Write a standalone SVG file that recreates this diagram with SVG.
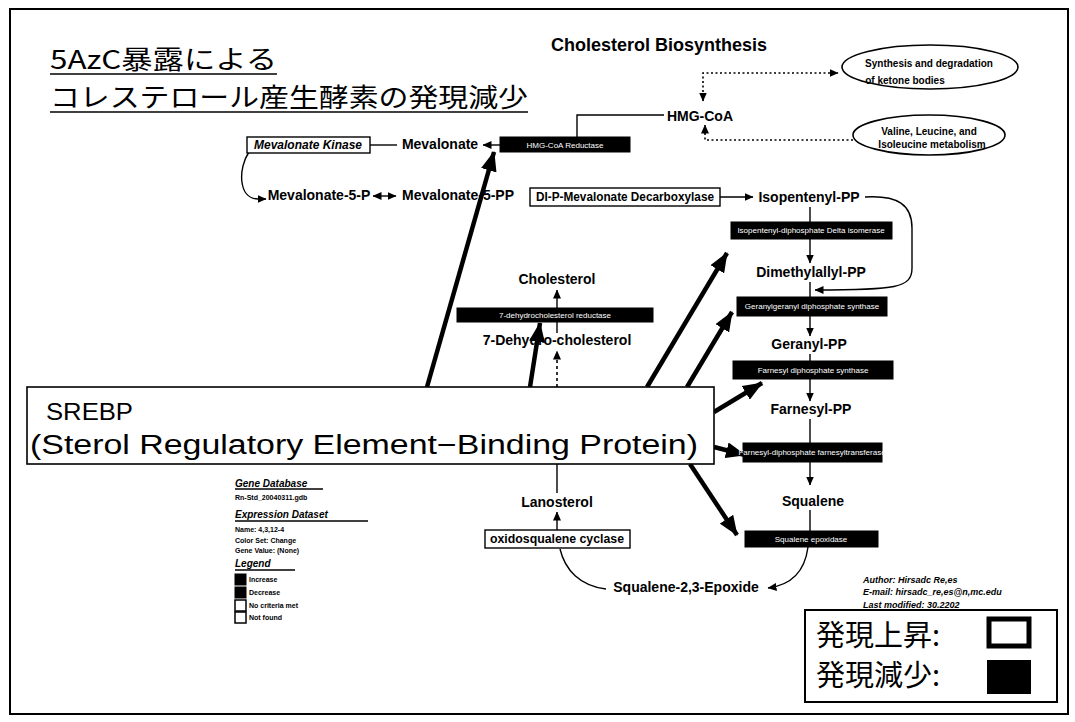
<svg xmlns="http://www.w3.org/2000/svg" width="1075" height="722" viewBox="0 0 1075 722">
<style>
text { font-family: "Liberation Sans", Arial, sans-serif; fill: #000; }
.lbl { font-size: 14px; font-weight: bold; text-anchor: middle; }
.wbox { fill: #fff; stroke: #000; stroke-width: 1.4; }
.bbox { fill: #000; stroke: #000; stroke-width: 1; }
.btxt { font-size: 8px; fill: #fff; text-anchor: middle; }
.etxt { font-size: 12px; text-anchor: middle; }
.ell { fill: #fff; stroke: #000; stroke-width: 1.6; }
.elt { font-size: 10px; font-weight: bold; text-anchor: middle; }
.thin { fill: none; stroke: #000; stroke-width: 1.4; }
.dot { fill: none; stroke: #000; stroke-width: 1.6; stroke-dasharray: 2 2.5; }
.dash { fill: none; stroke: #000; stroke-width: 1.6; stroke-dasharray: 3 3; }
.big { fill: none; stroke: #000; stroke-width: 4.5; }
.jp { font-family: "Noto Sans CJK JP", sans-serif; }
.sm { font-size: 7px; font-weight: bold; }
.hd { font-size: 10px; font-weight: bold; font-style: italic; }
.au { font-size: 9px; font-weight: bold; font-style: italic; }
.ul { stroke: #000; stroke-width: 1.5; }
</style>
<defs>
<marker id="ah" markerUnits="userSpaceOnUse" markerWidth="9" markerHeight="8" refX="8.5" refY="4" orient="auto-start-reverse"><path d="M0,0 L9,4 L0,8 z" fill="#000"/></marker>
<marker id="bah" markerUnits="userSpaceOnUse" markerWidth="20" markerHeight="16" refX="19" refY="8" orient="auto"><path d="M0,0 L20,8 L0,16 z" fill="#000"/></marker>
</defs>

<rect x="10" y="9" width="1058" height="705" fill="#fff" stroke="#000" stroke-width="2"/>

<g id="title">
<text class="jp" x="50" y="69" font-size="26" textLength="227" lengthAdjust="spacingAndGlyphs">5AzC暴露による</text>
<line class="ul" x1="50" y1="74" x2="277" y2="74" stroke-width="2"/>
<text class="jp" x="50" y="107" font-size="26" textLength="478" lengthAdjust="spacingAndGlyphs">コレステロール産生酵素の発現減少</text>
<line class="ul" x1="50" y1="112" x2="528" y2="112" stroke-width="2"/>
</g>

<g id="pathway-title"><text x="659" y="51" font-size="18" font-weight="bold" text-anchor="middle">Cholesterol Biosynthesis</text></g>

<g id="connectors">
<path class="dot" d="M703,101 L703,73 L838,73" marker-start="url(#ah)" marker-end="url(#ah)"/>
<path class="dot" d="M853,140 L705,140 L705,125" marker-end="url(#ah)"/>
<path class="thin" d="M577,137 L577,115 L664,115"/>
<line class="thin" x1="500" y1="145" x2="483" y2="145" marker-end="url(#ah)"/>
<line class="thin" x1="370" y1="145" x2="397" y2="145"/>
<path class="thin" d="M249,152 C238,168 238,199 258,199 L266,199" marker-end="url(#ah)"/>
<line class="thin" x1="373" y1="196" x2="396" y2="196" marker-start="url(#ah)" marker-end="url(#ah)"/>
<line class="thin" x1="720" y1="197" x2="753" y2="197" marker-end="url(#ah)"/>
<path class="thin" d="M865,197 C898,195 912,205 912,228 L912,268 C912,288 896,290 815,290" marker-end="url(#ah)"/>
<line class="thin" x1="810" y1="207" x2="810" y2="263" marker-end="url(#ah)"/>
<line class="thin" x1="810" y1="282" x2="810" y2="336" marker-end="url(#ah)"/>
<line class="thin" x1="810" y1="354" x2="810" y2="401" marker-end="url(#ah)"/>
<line class="thin" x1="810" y1="419" x2="810" y2="485" marker-end="url(#ah)"/>
<line class="thin" x1="810" y1="510" x2="810" y2="531"/>
<path class="thin" d="M808,547 C805,570 792,585 768,588" marker-end="url(#ah)"/>
<path class="thin" d="M606,589 C580,586 565,570 560,549"/>
<line class="thin" x1="557" y1="530" x2="557" y2="512" marker-end="url(#ah)"/>
<line class="thin" x1="557" y1="493" x2="557" y2="464"/>
<line class="dash" x1="557" y1="387" x2="557" y2="351" marker-end="url(#ah)"/>
<line class="thin" x1="557" y1="333" x2="557" y2="290" marker-end="url(#ah)"/>
<line class="big" x1="427" y1="387" x2="494" y2="152" marker-end="url(#bah)"/>
<line class="big" x1="530" y1="387" x2="540" y2="323" marker-end="url(#bah)"/>
<line class="big" x1="647" y1="387" x2="727" y2="253" marker-end="url(#bah)"/>
<line class="big" x1="687" y1="387" x2="732" y2="312" marker-end="url(#bah)"/>
<line class="big" x1="714" y1="412" x2="762" y2="383" marker-end="url(#bah)"/>
<line class="big" x1="714" y1="447" x2="745" y2="455" marker-end="url(#bah)"/>
<line class="big" x1="690" y1="464" x2="737" y2="535" marker-end="url(#bah)"/>
</g>

<g id="ketone"><ellipse class="ell" cx="930" cy="67" rx="88" ry="22"/>
<text class="elt" x="929" y="67">Synthesis and degradation</text>
<text class="elt" x="905" y="84">of ketone bodies</text></g>
<g id="valine"><ellipse class="ell" cx="929" cy="135" rx="76" ry="20"/>
<text class="elt" x="929" y="135">Valine, Leucine, and</text>
<text class="elt" x="932" y="148">Isoleucine metabolism</text></g>

<g id="hmgcoa"><text class="lbl" x="700" y="121">HMG-CoA</text></g>
<g id="hmgcr"><rect class="bbox" x="500" y="137" width="130" height="15"/><text class="btxt" x="565" y="148">HMG-CoA Reductase</text></g>
<g id="mevalonate"><text class="lbl" x="440" y="149">Mevalonate</text></g>
<g id="mvk"><rect class="wbox" x="247" y="137" width="123" height="16"/><text class="etxt" x="308" y="149" font-style="italic" font-weight="bold" textLength="108" lengthAdjust="spacingAndGlyphs">Mevalonate Kinase</text></g>
<g id="mev5p"><text class="lbl" x="319" y="200">Mevalonate-5-P</text></g>
<g id="mev5pp"><text class="lbl" x="458" y="200">Mevalonate-5-PP</text></g>
<g id="mvd"><rect class="wbox" x="530" y="188" width="190" height="18"/><text class="etxt" x="625" y="201" font-weight="bold" textLength="178" lengthAdjust="spacingAndGlyphs">DI-P-Mevalonate Decarboxylase</text></g>
<g id="ipp"><text class="lbl" x="809" y="202">Isopentenyl-PP</text></g>
<g id="idi"><rect class="bbox" x="731" y="222" width="161" height="17"/><text class="btxt" x="811" y="233">Isopentenyl-diphosphate Delta isomerase</text></g>
<g id="dmapp"><text class="lbl" x="811" y="277">Dimethylallyl-PP</text></g>
<g id="ggps"><rect class="bbox" x="737" y="297" width="150" height="19"/><text class="btxt" x="812" y="309">Geranylgeranyl diphosphate synthase</text></g>
<g id="gpp"><text class="lbl" x="809" y="349">Geranyl-PP</text></g>
<g id="fdps"><rect class="bbox" x="733" y="361" width="160" height="18"/><text class="btxt" x="813" y="373">Farnesyl diphosphate synthase</text></g>
<g id="fpp"><text class="lbl" x="811" y="414">Farnesyl-PP</text></g>
<g id="fdft"><rect class="bbox" x="743" y="443" width="139" height="19"/><text class="btxt" x="812" y="455">Farnesyl-diphosphate farnesyltransferase</text></g>
<g id="squalene"><text class="lbl" x="813" y="506">Squalene</text></g>
<g id="sqle"><rect class="bbox" x="745" y="531" width="133" height="16"/><text class="btxt" x="811" y="542">Squalene epoxidase</text></g>
<g id="epoxide"><text class="lbl" x="686" y="592">Squalene-2,3-Epoxide</text></g>
<g id="osc"><rect class="wbox" x="485" y="530" width="145" height="18"/><text class="etxt" x="557" y="543" font-weight="bold" textLength="134" lengthAdjust="spacingAndGlyphs">oxidosqualene cyclase</text></g>
<g id="lanosterol"><text class="lbl" x="557" y="507">Lanosterol</text></g>
<g id="cholesterol"><text class="lbl" x="557" y="284">Cholesterol</text></g>
<g id="dhcr7"><rect class="bbox" x="457" y="308" width="196" height="14"/><text class="btxt" x="555" y="318">7-dehydrocholesterol reductase</text></g>
<g id="dhc"><text class="lbl" x="557" y="345">7-Dehydro-cholesterol</text></g>

<g id="srebp"><rect x="27" y="387" width="687" height="77" fill="#fff" stroke="#000" stroke-width="1.6"/>
<text x="46" y="420" font-size="24" textLength="87" lengthAdjust="spacingAndGlyphs">SREBP</text>
<text x="30" y="454" font-size="27" textLength="668" lengthAdjust="spacingAndGlyphs">(Sterol Regulatory Element−Binding Protein)</text></g>

<g id="gene-legend">
<text class="hd" x="235" y="487">Gene Database</text><line class="ul" x1="235" y1="489" x2="323" y2="489"/>
<text class="sm" x="235" y="500">Rn-Std_20040311.gdb</text>
<text class="hd" x="235" y="518" font-size="11">Expression Dataset</text><line class="ul" x1="235" y1="521" x2="368" y2="521"/>
<text class="sm" x="235" y="532">Name: 4,3,12-4</text>
<text class="sm" x="235" y="543">Color Set: Change</text>
<text class="sm" x="235" y="553">Gene Value: (None)</text>
<text class="hd" x="235" y="567" font-size="11">Legend</text><line class="ul" x1="235" y1="570" x2="295" y2="570"/>
<rect x="235" y="574" width="11" height="11" fill="#000" stroke="#000"/><text class="sm" x="249" y="582">Increase</text>
<rect x="235" y="587" width="11" height="11" fill="#000" stroke="#000"/><text class="sm" x="249" y="595">Decrease</text>
<rect x="235" y="600" width="11" height="11" fill="#fff" stroke="#000" stroke-width="1.5"/><text class="sm" x="249" y="608">No criteria met</text>
<rect x="235" y="612" width="11" height="11" fill="#fff" stroke="#000" stroke-width="1.5"/><text class="sm" x="249" y="620">Not found</text>
</g>

<g id="author">
<text class="au" x="863" y="583">Author: Hirsadc Re,es</text>
<text class="au" x="863" y="595">E-mail: hirsadc_re,es@n,mc.edu</text>
<text class="au" x="863" y="608">Last modified: 30.2202</text>
</g>

<g id="expr-legend">
<rect x="805" y="610" width="252" height="92" fill="#fff" stroke="#000" stroke-width="2"/>
<text class="jp" x="816" y="646" font-size="29">発現上昇:</text>
<text class="jp" x="816" y="686" font-size="29">発現減少:</text>
<rect x="989" y="619" width="40" height="27" fill="#fff" stroke="#000" stroke-width="5"/>
<rect x="987" y="660" width="44" height="34" fill="#000"/>
</g>
</svg>
